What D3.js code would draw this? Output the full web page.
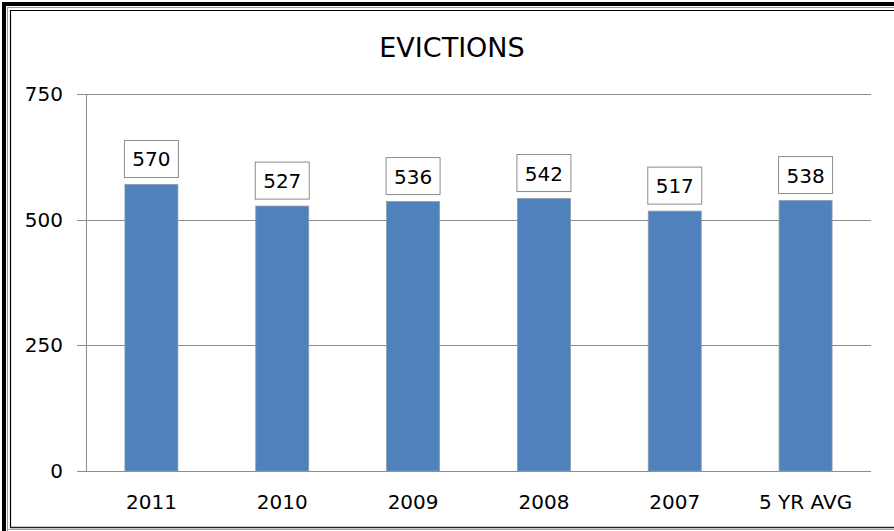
<!DOCTYPE html>
<html>
<head>
<meta charset="utf-8">
<script src="https://cdn.jsdelivr.net/npm/d3@7"></script>
<style>
  html, body { margin: 0; padding: 0; background: #fff; }
  svg { display: block; }
  text { font-family: "DejaVu Sans", sans-serif; fill: #000; }
</style>
</head>
<body>
<svg id="chart" width="894" height="531"></svg>
<script>
const categories = ["2011", "2010", "2009", "2008", "2007", "5 YR AVG"];
const values = [570, 527, 536, 542, 517, 538];
const tickValues = [0, 250, 500, 750];
const title = "EVICTIONS";

(function () {
const W = 894, H = 531;
const svg = d3.select("#chart");

// frame
const frame = svg.append("g");
frame.append("rect").attr("x", 2).attr("y", 2).attr("width", 4).attr("height", H - 2).attr("fill", "#000");
frame.append("rect").attr("x", 2).attr("y", 2).attr("width", W - 2).attr("height", 4).attr("fill", "#000");
frame.append("line").attr("x1", 7.5).attr("x2", 7.5).attr("y1", 7).attr("y2", H).attr("stroke", "#999").attr("stroke-width", 1);
frame.append("line").attr("x1", 7).attr("x2", W).attr("y1", 7.5).attr("y2", 7.5).attr("stroke", "#999").attr("stroke-width", 1);
frame.append("line").attr("x1", 10.5).attr("x2", 10.5).attr("y1", 10).attr("y2", 528).attr("stroke", "#000").attr("stroke-width", 1.2);
frame.append("line").attr("x1", 10).attr("x2", W).attr("y1", 10.5).attr("y2", 10.5).attr("stroke", "#000").attr("stroke-width", 1.2);
frame.append("line").attr("x1", 10).attr("x2", W).attr("y1", 527.5).attr("y2", 527.5).attr("stroke", "#222").attr("stroke-width", 1.5);
frame.append("line").attr("x1", 8).attr("x2", W).attr("y1", 529.5).attr("y2", 529.5).attr("stroke", "#aaa").attr("stroke-width", 1);

const pLeft = 86, pRight = 871, pTop = 94, pBottom = 471;

const x = d3.scaleBand().domain(categories).range([pLeft, pRight]).paddingInner(0.595).paddingOuter(0.2975);
const y = d3.scaleLinear().domain([0, 750]).range([pBottom, pTop]);

// title
svg.append("text").attr("x", 452).attr("y", 57).attr("text-anchor", "middle")
  .style("font-size", "27px").text(title);

// gridlines
svg.append("g").selectAll("line").data(tickValues).join("line")
  .attr("x1", pLeft - 9).attr("x2", pRight)
  .attr("y1", d => Math.round(y(d)) + 0.5).attr("y2", d => Math.round(y(d)) + 0.5)
  .attr("stroke", "#8c8c8c").attr("stroke-width", 1);

// y axis line
svg.append("line").attr("x1", pLeft + 0.5).attr("x2", pLeft + 0.5).attr("y1", pTop).attr("y2", pBottom)
  .attr("stroke", "#8c8c8c").attr("stroke-width", 1);

// y tick labels
svg.append("g").selectAll("text").data(tickValues).join("text")
  .attr("x", 63).attr("y", d => y(d) + 7).attr("text-anchor", "end")
  .style("font-size", "20px").text(d => d);

// bars
svg.append("g").selectAll("rect").data(values).join("rect")
  .attr("x", (d, i) => x(categories[i]))
  .attr("y", d => y(d))
  .attr("width", x.bandwidth())
  .attr("height", d => y(0) - y(d))
  .attr("fill", "#4F81BD")
  .attr("stroke", "#8b9bb0").attr("stroke-width", 0.8);

// value label boxes
const lbl = svg.append("g").selectAll("g").data(values).join("g")
  .attr("transform", (d, i) => `translate(${x(categories[i]) + x.bandwidth() / 2},${y(d) - 7})`);
lbl.append("rect").attr("x", -27).attr("y", -37).attr("width", 54).attr("height", 37)
  .attr("fill", "#fff").attr("stroke", "#8c8c8c").attr("stroke-width", 1);
lbl.append("text").attr("x", 0).attr("y", -11).attr("text-anchor", "middle")
  .style("font-size", "20px").text(d => d);

// category labels
svg.append("g").selectAll("text").data(categories).join("text")
  .attr("x", d => x(d) + x.bandwidth() / 2).attr("y", 509).attr("text-anchor", "middle")
  .style("font-size", "20px").text(d => d);
})();
</script>
</body>
</html>
